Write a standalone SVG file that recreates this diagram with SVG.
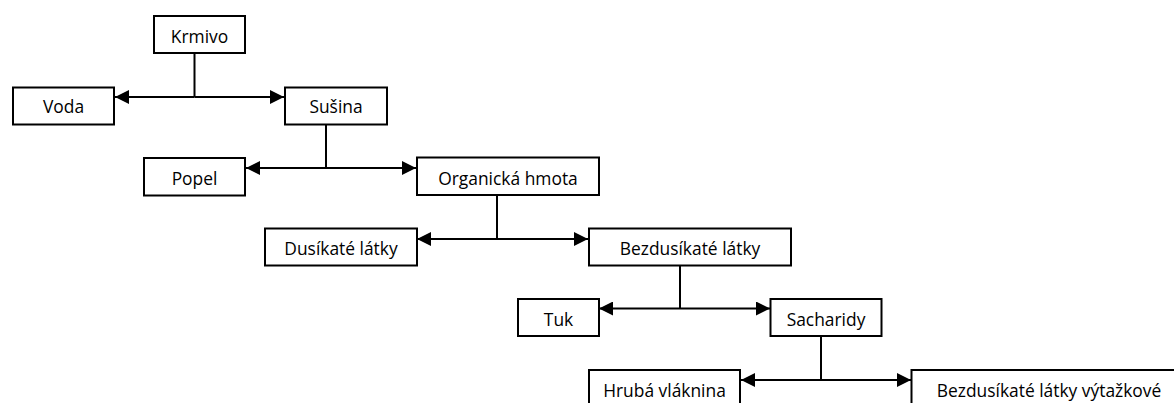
<svg xmlns="http://www.w3.org/2000/svg" width="1174" height="403" viewBox="0 0 1174 403">
<style>
.box{fill:#fff;stroke:#000;stroke-width:2}
.lbl{font-family:"Open Sans","Liberation Sans",sans-serif;font-size:17.4px;fill:#000;text-anchor:middle}
.con{fill:none;stroke:#000;stroke-width:2}
</style>
<defs>
<marker id="ah" viewBox="0 0 14 14" refX="14" refY="7" markerWidth="14" markerHeight="14" markerUnits="userSpaceOnUse" orient="auto">
<path d="M0,0 L14,7 L0,14 z" fill="#000"/>
</marker>
</defs>
<rect width="1174" height="403" fill="#fff"/>
<g id="connectors">
<line class="con" x1="194.5" y1="53" x2="194.5" y2="97"/>
<line class="con" x1="194.5" y1="97" x2="115" y2="97" marker-end="url(#ah)"/>
<line class="con" x1="194.5" y1="97" x2="284" y2="97" marker-end="url(#ah)"/>
<line class="con" x1="326" y1="124" x2="326" y2="168"/>
<line class="con" x1="326" y1="168" x2="246" y2="168" marker-end="url(#ah)"/>
<line class="con" x1="326" y1="168" x2="416" y2="168" marker-end="url(#ah)"/>
<line class="con" x1="497" y1="195" x2="497" y2="239"/>
<line class="con" x1="497" y1="239" x2="417" y2="239" marker-end="url(#ah)"/>
<line class="con" x1="497" y1="239" x2="588" y2="239" marker-end="url(#ah)"/>
<line class="con" x1="680" y1="266" x2="680" y2="308.5"/>
<line class="con" x1="680" y1="308.5" x2="599" y2="308.5" marker-end="url(#ah)"/>
<line class="con" x1="680" y1="308.5" x2="770" y2="308.5" marker-end="url(#ah)"/>
<line class="con" x1="821" y1="337" x2="821" y2="380"/>
<line class="con" x1="821" y1="380" x2="741" y2="380" marker-end="url(#ah)"/>
<line class="con" x1="821" y1="380" x2="911" y2="380" marker-end="url(#ah)"/>
</g>
<g id="krmivo"><rect class="box" x="154" y="16" width="91" height="37"/><text class="lbl" x="199.5" y="43">Krmivo</text></g>
<g id="voda"><rect class="box" x="13" y="87.5" width="101" height="37"/><text class="lbl" x="63.5" y="113">Voda</text></g>
<g id="susina"><rect class="box" x="285" y="87.5" width="102" height="37"/><text class="lbl" x="336" y="113">Sušina</text></g>
<g id="popel"><rect class="box" x="144" y="158" width="101" height="37.5"/><text class="lbl" x="194.5" y="185">Popel</text></g>
<g id="organicka"><rect class="box" x="417" y="157.5" width="182" height="37.5"/><text class="lbl" x="508" y="185">Organická hmota</text></g>
<g id="dusikate"><rect class="box" x="265" y="228.5" width="152" height="37"/><text class="lbl" x="341" y="255">Dusíkaté látky</text></g>
<g id="bezdusikate"><rect class="box" x="589" y="228.5" width="202" height="37"/><text class="lbl" x="690" y="255">Bezdusíkaté látky</text></g>
<g id="tuk"><rect class="box" x="518" y="299" width="81" height="37"/><text class="lbl" x="558.5" y="326">Tuk</text></g>
<g id="sacharidy"><rect class="box" x="770.5" y="299" width="111" height="37"/><text class="lbl" x="826" y="326">Sacharidy</text></g>
<g id="hruba"><rect class="box" x="589" y="370" width="151" height="37"/><text class="lbl" x="664.5" y="397">Hrubá vláknina</text></g>
<g id="vytazkove"><rect class="box" x="911.5" y="370" width="276" height="37"/><text class="lbl" x="1049" y="397">Bezdusíkaté látky výtažkové</text></g>
</svg>
